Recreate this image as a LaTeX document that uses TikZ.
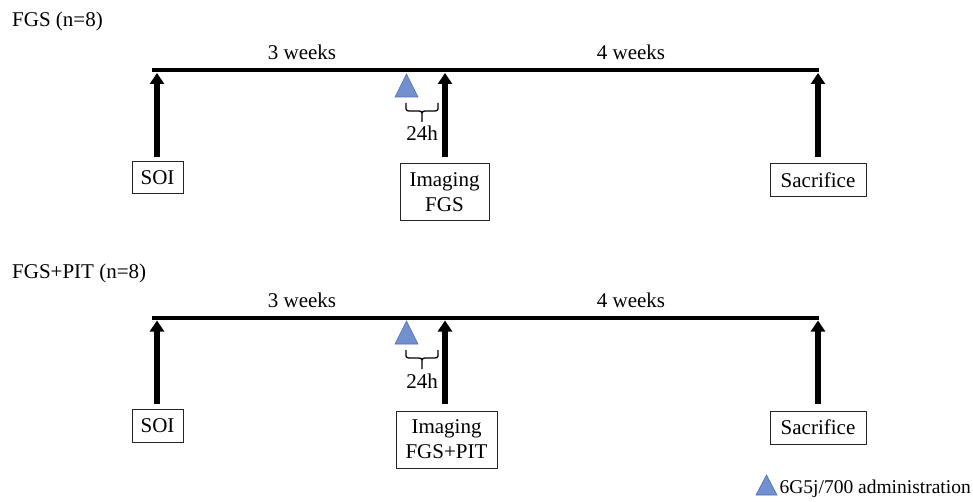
\documentclass[tikz,border=0pt]{standalone}
\usepackage{fontspec}
\setmainfont{Liberation Serif}
\usetikzlibrary{arrows.meta}
\definecolor{triblue}{RGB}{114,144,208}
\definecolor{triedge}{RGB}{80,110,175}
\begin{document}
\begin{tikzpicture}[x=1pt,y=-1pt,
  every node/.style={font=\fontsize{21}{25}\selectfont, inner sep=0pt},
  timeline/.style={line width=4pt},
  bigarrow/.style={line width=6pt, -{Triangle[width=14pt,length=11pt]}},
  stagebox/.style={draw=black!85, line width=1pt, align=center},
  inj/.style={fill=triblue, draw=triedge, line width=0.6pt},
  brace/.style={line width=1.3pt, line join=round},
  label/.style={anchor=base}
]
\useasboundingbox (0,0) rectangle (973,502);

% ---------- Row 1 ----------
\node[anchor=base west] (title1) at (12,27) {FGS (n=8)};
\coordinate (l1s) at (152,70);
\coordinate (l1e) at (819,70);
\draw[timeline] (l1s) -- (l1e);
\node[label] (w3a) at (302,60) {3 weeks};
\node[label] (w4a) at (631,60) {4 weeks};

\node[stagebox, minimum width=51pt, minimum height=32pt] (soi1) at (157.5,178) {SOI};
\node[stagebox, minimum width=89pt, minimum height=57pt] (img1) at (444.5,192.5) {Imaging\\FGS};
\node[stagebox, minimum width=96pt, minimum height=33pt] (sac1) at (818,180.5) {Sacrifice};

\coordinate (a1a) at (157,73);
\coordinate (a1b) at (445,73);
\coordinate (a1c) at (818,73);
\draw[bigarrow] (157,157) -- (a1a);
\draw[bigarrow] (445,157) -- (a1b);
\draw[bigarrow] (818,157) -- (a1c);

\draw[inj] (395,97) -- (418,97) -- (406.5,74) -- cycle;
\draw[brace] (406,103) -- (406,109) to[out=-90,in=180] (409,111) -- (419,111) to[out=0,in=90] (422,113) -- (422,122);
\draw[brace] (438,103) -- (438,109) to[out=-90,in=0] (435,111) -- (425,111) to[out=180,in=90] (422,113);
\node[label] (h1) at (422,141) {24h};

% ---------- Row 2 ----------
\node[anchor=base west] (title2) at (12,278) {FGS+PIT (n=8)};
\coordinate (l2s) at (152,317.5);
\coordinate (l2e) at (819,317.5);
\draw[timeline] (l2s) -- (l2e);
\node[label] (w3b) at (302,307) {3 weeks};
\node[label] (w4b) at (631,307) {4 weeks};

\node[stagebox, minimum width=51pt, minimum height=33pt] (soi2) at (157.5,425.5) {SOI};
\node[stagebox, minimum width=101pt, minimum height=57pt] (img2) at (446.5,439.5) {Imaging\\FGS+PIT};
\node[stagebox, minimum width=96pt, minimum height=33pt] (sac2) at (818,427.5) {Sacrifice};

\coordinate (a2a) at (157,320.5);
\coordinate (a2b) at (445,320.5);
\coordinate (a2c) at (818,320.5);
\draw[bigarrow] (157,404) -- (a2a);
\draw[bigarrow] (445,404) -- (a2b);
\draw[bigarrow] (818,404) -- (a2c);

\draw[inj] (395,344) -- (418,344) -- (406.5,321) -- cycle;
\draw[brace] (406,350) -- (406,356) to[out=-90,in=180] (409,358) -- (419,358) to[out=0,in=90] (422,360) -- (422,369);
\draw[brace] (438,350) -- (438,356) to[out=-90,in=0] (435,358) -- (425,358) to[out=180,in=90] (422,360);
\node[label] (h2) at (422,388) {24h};

% ---------- Legend ----------
\draw[inj] (756,495) -- (777,495) -- (766.5,475) -- cycle;
\node[anchor=base east, font=\fontsize{19.5}{23}\selectfont] (leg) at (971,493) {6G5j/700 administration};
\end{tikzpicture}
\end{document}
